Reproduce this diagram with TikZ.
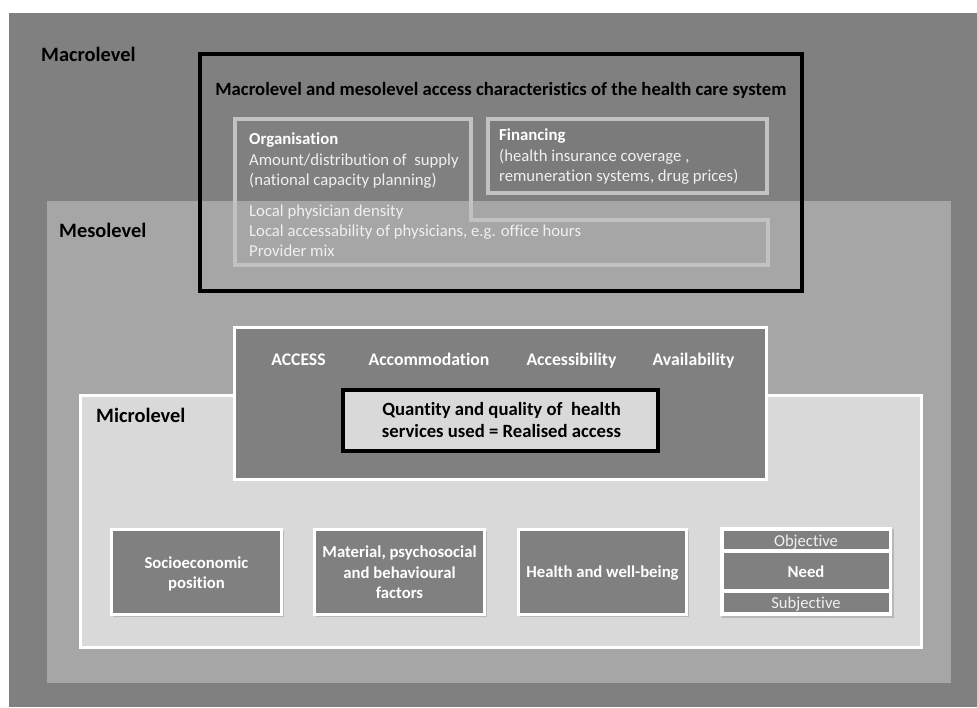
\documentclass[tikz,border=0pt]{standalone}
\usepackage{fontspec}
\setmainfont[Ligatures={NoCommon}]{Carlito}
\definecolor{macro}{HTML}{808080}
\definecolor{meso}{HTML}{A6A6A6}
\definecolor{micro}{HTML}{D9D9D9}
\definecolor{boxgray}{HTML}{808080}
\definecolor{orgline}{HTML}{C2C2C2}
\definecolor{fincol}{HTML}{7B7B7B}
\definecolor{lighttxt}{HTML}{F0F0F0}
\definecolor{shadowcol}{HTML}{B8B8B8}
\begin{document}
\begin{tikzpicture}[x=1pt,y=-1pt,
  levellabel/.style={font=\fontsize{20.4}{24}\selectfont\bfseries, anchor=base west, inner sep=0pt, text=black},
  titletxt/.style={font=\fontsize{18.7}{22}\selectfont\bfseries, anchor=base, inner sep=0pt, text=black},
  orghead/.style={font=\fontsize{16.8}{20}\selectfont\bfseries, anchor=base west, inner sep=0pt, text=white},
  orgtxt/.style={font=\fontsize{16.7}{20}\selectfont, anchor=base west, inner sep=0pt, text=lighttxt},
  accword/.style={font=\fontsize{17.7}{21}\selectfont\bfseries, anchor=base, inner sep=0pt, text=white},
  realtxt/.style={font=\fontsize{18.7}{22}\selectfont\bfseries, anchor=base, inner sep=0pt, text=black},
  factxt/.style={font=\fontsize{16.7}{20}\selectfont\bfseries, anchor=base, inner sep=0pt, text=white},
  needsub/.style={font=\fontsize{16.6}{20}\selectfont, anchor=base, inner sep=0pt, text=lighttxt},
  whitebox/.style={fill=boxgray, draw=white, line width=3pt},
  factorbox/.style={fill=boxgray, draw=white, line width=3pt},
  shadowbox/.style={fill=shadowcol, draw=none},
  orgbox/.style={draw=orgline, line width=3.5pt}
]
\useasboundingbox (0,0) rectangle (977,707);
% levels
\path[fill=macro] (9,13) rectangle (977,707);
\path[fill=meso] (47,201) rectangle (951,683);
% macro/meso characteristics
\path[fill=fincol] (488,119) rectangle (767,193);
\draw[orgbox] (488,119) rectangle (767,193);
\draw[orgbox] (235,119) -- (471,119) -- (471,220) -- (768,220) -- (768,265) -- (235,265) -- cycle;
\draw[black, line width=4pt] (200,54) rectangle (802,291);
% micro level
\path[fill=micro, draw=white, line width=3pt] (80.5,395.5) rectangle (921.5,647.5);
% access box
\path[whitebox] (234.5,327.5) rectangle (766,479);
\path[fill=micro, draw=black, line width=4pt] (343,390) rectangle (658,451);
% factor boxes
\foreach \xa/\xb in {111.5/281.5, 314.5/484.5, 518.5/686.5}{
  \path[shadowbox] (\xa+1.5,531) rectangle (\xb+2.5,617);
  \path[factorbox] (\xa,529.5) rectangle (\xb,614.5);
}
\path[shadowbox] (722,529) rectangle (894,617.5);
\path[fill=white] (720,527) rectangle (892,616);
\path[fill=boxgray] (724,531) rectangle (889,549);
\path[fill=boxgray] (724,553) rectangle (889,589);
\path[fill=boxgray] (724,593) rectangle (889,612);

% labels
\node[levellabel] (macrolbl) at (41,61) {Macrolevel};
\node[levellabel] (mesolbl) at (59,237) {Mesolevel};
\node[levellabel] (microlbl) at (96,422) {Microlevel};
\node[titletxt] (title) at (501,95) {Macrolevel and mesolevel access characteristics of the health care system};

\node[orghead] (org1) at (249,144) {Organisation};
\node[orgtxt] (org2) at (249,165) {Amount/distribution of~ supply};
\node[orgtxt] (org3) at (249,185) {(national capacity planning)};
\node[orgtxt] (org4) at (249,216) {Local physician density};
\node[orgtxt] (org5) at (249,236) {Local accessability of physicians, e.g. office hours};
\node[orgtxt] (org6) at (249,256) {Provider mix};

\node[orghead] (fin1) at (499,140) {Financing};
\node[orgtxt] (fin2) at (499,161) {(health insurance coverage ,};
\node[orgtxt] (fin3) at (499,181) {remuneration systems, drug prices)};

\node[accword] (acc0) at (298.5,365) {ACCESS};
\node[accword] (acc1) at (429,365) {Accommodation};
\node[accword] (acc2) at (571.5,365) {Accessibility};
\node[accword] (acc3) at (693.5,365) {Availability};

\node[realtxt] (real1) at (501.5,415) {Quantity and quality of~ health};
\node[realtxt] (real2) at (501.5,437) {services used = Realised access};

\node[factxt] (ses1) at (196.5,568) {Socioeconomic};
\node[factxt] (ses2) at (196.5,588) {position};
\node[factxt] (mat1) at (399.5,557) {Material, psychosocial};
\node[factxt] (mat2) at (399.5,578) {and behavioural};
\node[factxt] (mat3) at (399.5,598) {factors};
\node[factxt] (hwb) at (602.5,577) {Health and well-being};
\node[needsub] (obj) at (806,546) {Objective};
\node[factxt] (need) at (806,577) {Need};
\node[needsub] (subj) at (806,608) {Subjective};
\end{tikzpicture}
\end{document}
